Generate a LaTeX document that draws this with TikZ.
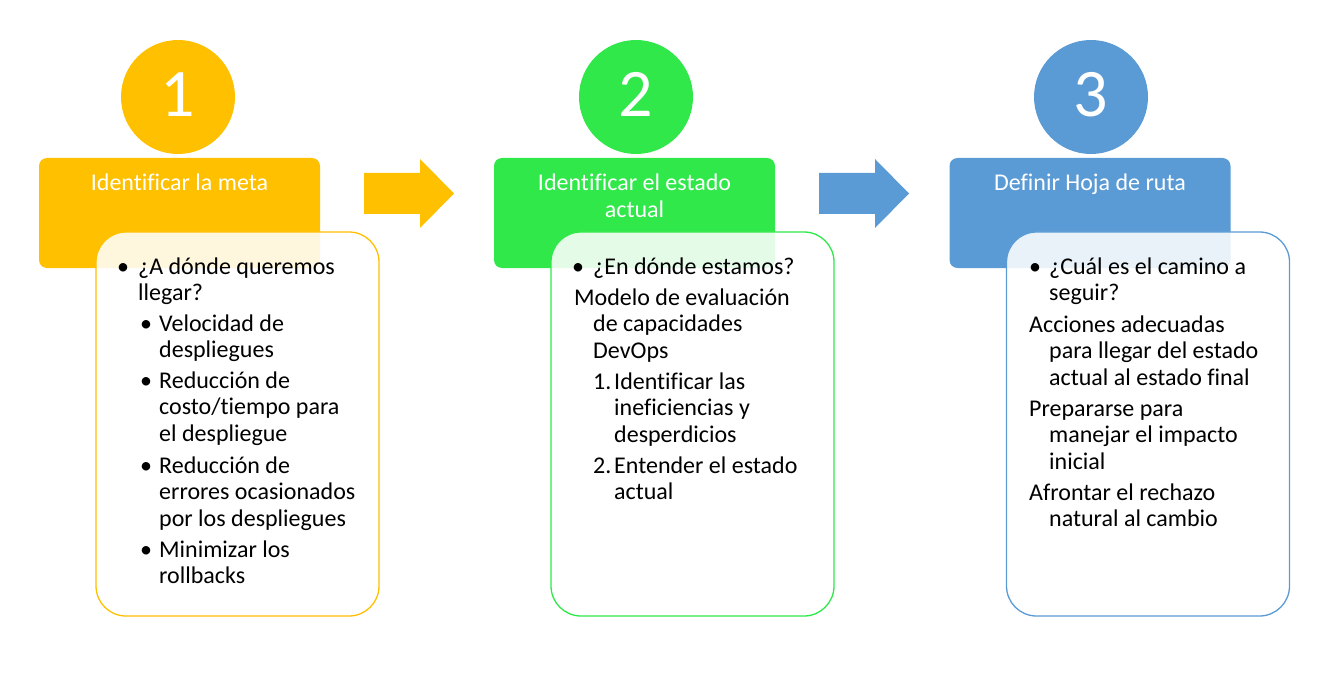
\documentclass[tikz,border=0pt]{standalone}
\usepackage{fontspec}
\setmainfont{Carlito}[Ligatures={NoCommon}]
\definecolor{cOrange}{HTML}{FFC000}
\definecolor{cGreen}{HTML}{30E84A}
\definecolor{cBlue}{HTML}{5B9BD5}
\newcommand{\mlines}[1]{\begin{tabular}[t]{@{}l@{}}#1\end{tabular}}
\newcommand{\clines}[1]{\begin{tabular}[t]{@{}c@{}}#1\end{tabular}}
\tikzset{
  numcirc/.style={circle, fill=#1, minimum size=114pt, inner sep=0pt},
  numtext/.style={anchor=base, text=white, inner sep=0pt, font=\fontsize{68}{72}\selectfont},
  header/.style={rounded corners=8pt, fill=#1, minimum width=281pt, minimum height=110pt, inner sep=0pt},
  htext/.style={anchor=base, text=white, inner sep=0pt, font=\fontsize{24}{26.7}\selectfont},
  content/.style={rounded corners=30pt, draw=#1, line width=1.3pt, fill=white, fill opacity=0.87, minimum width=283pt, minimum height=384pt, inner sep=0pt},
  btext/.style={anchor=base west, inner sep=0pt, font=\fontsize{24}{26.7}\selectfont},
  bul/.style={anchor=base, inner sep=0pt, font=\fontsize{24}{26.7}\selectfont},
  bigarrow/.style={fill=#1, draw=none}
}
\begin{document}
\begin{tikzpicture}[x=1pt,y=-1pt]
\useasboundingbox (0,0) rectangle (1336,687);
% circles
\node[numcirc=cOrange] (c1) at (178,97) {};
\node[numcirc=cGreen] (c2) at (636,97) {};
\node[numcirc=cBlue] (c3) at (1091,97) {};
\node[numtext] (n1) at (178,117) {1};
\node[numtext] (n2) at (636,117) {2};
\node[numtext] (n3) at (1091,117) {3};
% arrows
\fill[bigarrow=cOrange] (364,173) -- (420,173) -- (420,159) -- (454,193.5) -- (420,228) -- (420,214) -- (364,214) -- cycle;
\fill[bigarrow=cBlue] (819,173) -- (875,173) -- (875,159) -- (909,193.5) -- (875,228) -- (875,214) -- (819,214) -- cycle;
% headers
\node[header=cOrange] (h1) at (179.5,213) {};
\node[header=cGreen] (h2) at (634.5,213) {};
\node[header=cBlue] (h3) at (1090,213) {};
\node[htext] (ht1) at (179.5,191) {\clines{Identificar la meta}};
\node[htext] (ht2) at (634.5,191) {\clines{Identificar el estado\\actual}};
\node[htext] (ht3) at (1090,191) {\clines{Definir Hoja de ruta}};
% content boxes
\node[content=cOrange] (b1) at (237.5,424) {};
\node[content=cGreen] (b2) at (692.5,424) {};
\node[content=cBlue] (b3) at (1148,424) {};
% box 1 text
\node[bul] (b1u1) at (123,274) {•};
\node[btext] (b1t1) at (138,274) {\mlines{¿A dónde queremos\\llegar?}};
\node[bul] (b1u2) at (146,331) {•};
\node[btext] (b1t2) at (159,331) {\mlines{Velocidad de\\despliegues}};
\node[bul] (b1u3) at (146,388) {•};
\node[btext] (b1t3) at (159,388) {\mlines{Reducción de\\costo/tiempo para\\el despliegue}};
\node[bul] (b1u4) at (146,473) {•};
\node[btext] (b1t4) at (159,473) {\mlines{Reducción de\\errores ocasionados\\por los despliegues}};
\node[bul] (b1u5) at (146,557) {•};
\node[btext] (b1t5) at (159,557) {\mlines{Minimizar los\\rollbacks}};
% box 2 text
\node[bul] (b2u1) at (578,274) {•};
\node[btext] (b2t1) at (593,274) {¿En dónde estamos?};
\node[btext] (b2t2) at (574,305) {\mlines{Modelo de evaluación\\\hspace*{19pt}de capacidades\\\hspace*{19pt}DevOps}};
\node[btext] (b2n1) at (593,389) {1.};
\node[btext] (b2t3) at (614,389) {\mlines{Identificar las\\ineficiencias y\\desperdicios}};
\node[btext] (b2n2) at (593,473) {2.};
\node[btext] (b2t4) at (614,473) {\mlines{Entender el estado\\actual}};
% box 3 text
\node[bul] (b3u1) at (1035,274) {•};
\node[btext] (b3t1) at (1049,274) {\mlines{¿Cuál es el camino a\\seguir?}};
\node[btext] (b3t2) at (1029,332) {\mlines{Acciones adecuadas\\\hspace*{20pt}para llegar del estado\\\hspace*{20pt}actual al estado final}};
\node[btext] (b3t3) at (1029,416) {\mlines{Prepararse para\\\hspace*{20pt}manejar el impacto\\\hspace*{20pt}inicial}};
\node[btext] (b3t4) at (1029,500) {\mlines{Afrontar el rechazo\\\hspace*{20pt}natural al cambio}};
\end{tikzpicture}
\end{document}
